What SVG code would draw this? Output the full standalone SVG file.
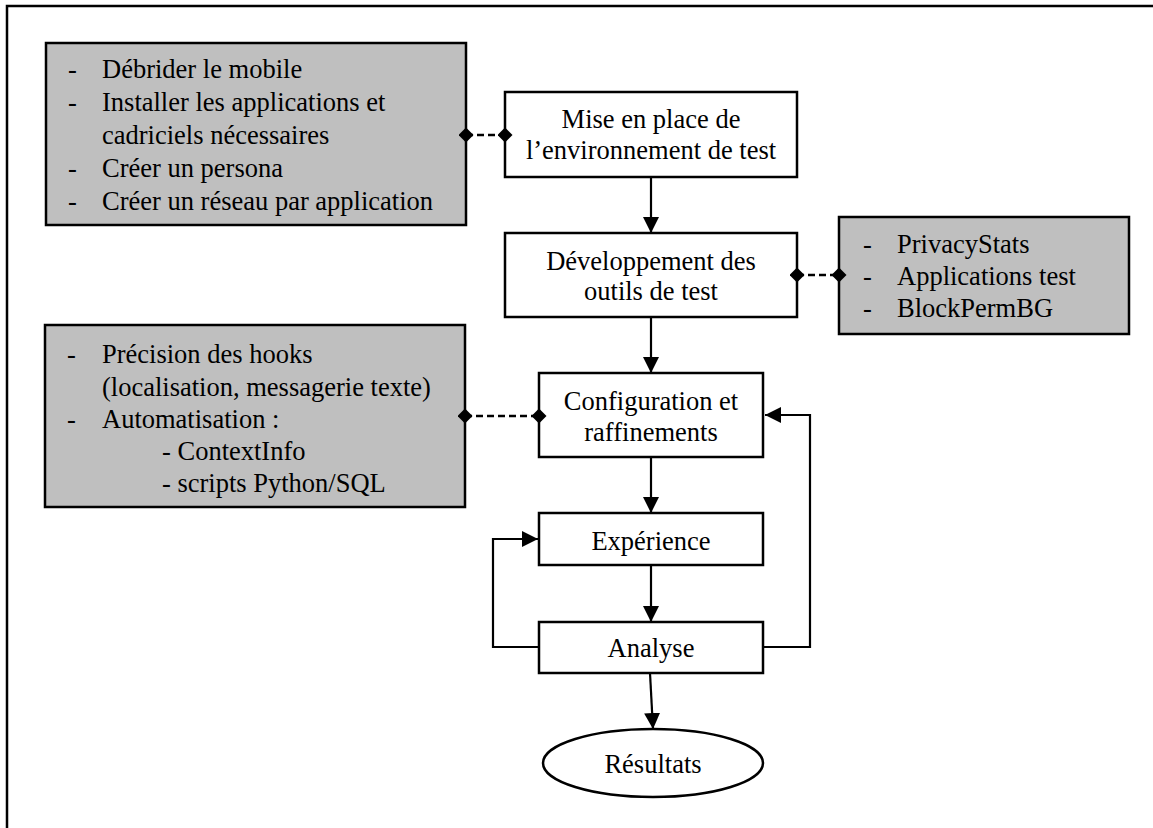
<svg xmlns="http://www.w3.org/2000/svg" width="1153" height="828" viewBox="0 0 1153 828">
<style>
text{font-family:"Liberation Serif","Times New Roman",serif;font-size:26.5px;fill:#000}
.c{text-anchor:middle}
.box{fill:#fff;stroke:#000;stroke-width:2.5}
.gray{fill:#bfbfbf;stroke:#000;stroke-width:2.5}
.ln{fill:none;stroke:#000;stroke-width:2.2}
.dash{fill:none;stroke:#000;stroke-width:2.5;stroke-dasharray:7 4;marker-start:url(#dia);marker-end:url(#dia)}
.arr{marker-end:url(#ah)}
</style>
<defs>
<marker id="ah" viewBox="0 0 16 16" refX="16" refY="8" markerWidth="16" markerHeight="16" markerUnits="userSpaceOnUse" orient="auto"><path d="M0,0 L16,8 L0,16 z" fill="#000"/></marker>
<marker id="dia" viewBox="0 0 15 15" refX="7.5" refY="7.5" markerWidth="15" markerHeight="15" markerUnits="userSpaceOnUse" orient="auto"><path d="M0,7.5 L7.5,0 L15,7.5 L7.5,15 z" fill="#000"/></marker>
</defs>
<rect width="1153" height="828" fill="#fff"/>
<path d="M7,828 L7,6 L1153,6" fill="none" stroke="#000" stroke-width="2.5"/>

<g id="prep">
<rect class="gray" x="46" y="43" width="420" height="182"/>
<text x="68" y="78">-</text><text x="102" y="78">Débrider le mobile</text>
<text x="68" y="111">-</text><text x="102" y="111">Installer les applications et</text>
<text x="102" y="144">cadriciels nécessaires</text>
<text x="68" y="177">-</text><text x="102" y="177">Créer un persona</text>
<text x="68" y="210">-</text><text x="102" y="210">Créer un réseau par application</text>
</g>

<g id="mise">
<rect class="box" x="505" y="92" width="292" height="85"/>
<text class="c" x="651" y="128">Mise en place de</text>
<text class="c" x="651" y="159">l’environnement de test</text>
</g>

<g id="dev">
<rect class="box" x="505" y="233" width="292" height="84"/>
<text class="c" x="651" y="270">Développement des</text>
<text class="c" x="651" y="300">outils de test</text>
</g>

<g id="outils">
<rect class="gray" x="839" y="217" width="290" height="117"/>
<text x="863" y="253">-</text><text x="897" y="253">PrivacyStats</text>
<text x="863" y="285">-</text><text x="897" y="285">Applications test</text>
<text x="863" y="317">-</text><text x="897" y="317">BlockPermBG</text>
</g>

<g id="raff">
<rect class="gray" x="45" y="325" width="420" height="182"/>
<text x="67" y="363">-</text><text x="102" y="363">Précision des hooks</text>
<text x="102" y="396">(localisation, messagerie texte)</text>
<text x="67" y="428">-</text><text x="102" y="428">Automatisation :</text>
<text x="162" y="460">- ContextInfo</text>
<text x="162" y="492">- scripts Python/SQL</text>
</g>

<g id="config">
<rect class="box" x="539" y="373" width="224" height="84"/>
<text class="c" x="651" y="410">Configuration et</text>
<text class="c" x="651" y="441">raffinements</text>
</g>

<g id="exp">
<rect class="box" x="539" y="513" width="224" height="52"/>
<text class="c" x="651" y="550">Expérience</text>
</g>

<g id="analyse">
<rect class="box" x="539" y="622" width="224" height="51"/>
<text class="c" x="651" y="657">Analyse</text>
</g>

<g id="resultats">
<ellipse class="box" cx="653" cy="763" rx="110" ry="34"/>
<text class="c" x="653" y="773">Résultats</text>
</g>

<g id="connectors">
<path class="dash" d="M466,135 L505,135"/>
<path class="dash" d="M797,275 L839,275"/>
<path class="dash" d="M465,416 L539,416"/>
<path class="ln arr" d="M651,177 L651,233"/>
<path class="ln arr" d="M651,317 L651,373"/>
<path class="ln arr" d="M651,457 L651,513"/>
<path class="ln arr" d="M651,565 L651,622"/>
<path class="ln arr" d="M650,673 L653,729"/>
<path class="ln arr" d="M763,647 L810,647 L810,415 L765,415"/>
<path class="ln arr" d="M539,647 L493,647 L493,539 L538,539"/>
</g>
</svg>
